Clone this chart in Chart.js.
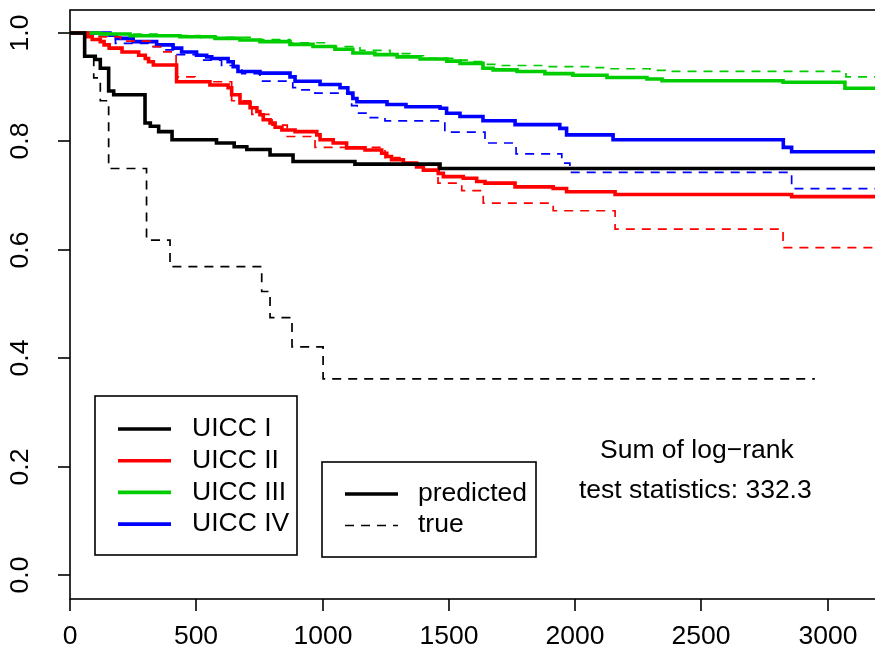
<!DOCTYPE html>
<html>
<head>
<meta charset="utf-8">
<script src="https://cdn.jsdelivr.net/npm/chart.js@4.4.1/dist/chart.umd.min.js"></script>
<style>
  html, body { margin: 0; padding: 0; background: #ffffff; }
  #wrap { width: 875px; height: 661px; }
</style>
</head>
<body>
<div id="wrap"><canvas id="km" width="875" height="661"></canvas></div>
<script>
// Axis ticks
const xTicks = [0, 500, 1000, 1500, 2000, 2500, 3000];
const yTicks = [0.0, 0.2, 0.4, 0.6, 0.8, 1.0];

// UICC I (black)
const uicc1PredTime = [0, 58, 100, 120, 153, 173, 297, 318, 351, 404, 580, 650, 700, 792, 883, 1128, 1465, 3187];
const uicc1PredSurv = [1, 0.957, 0.951, 0.935, 0.893, 0.886, 0.834, 0.828, 0.818, 0.803, 0.797, 0.790, 0.785, 0.775, 0.763, 0.758, 0.750, 0.750];
const uicc1TrueTime = [0, 58, 94, 120, 153, 303, 396, 759, 792, 879, 1002, 2949];
const uicc1TrueSurv = [1, 0.958, 0.917, 0.875, 0.750, 0.618, 0.569, 0.523, 0.475, 0.421, 0.362, 0.362];

// UICC II (red)
const uicc2PredTime = [0, 70, 88, 120, 135, 155, 206, 272, 298, 311, 330, 422, 554, 626, 640, 673, 713, 740, 752, 765, 792, 812, 839, 891, 977, 990, 1042, 1095, 1168, 1234, 1254, 1273, 1320, 1372, 1399, 1458, 1478, 1557, 1610, 1643, 1762, 1913, 1966, 2158, 2857, 3187];
const uicc2PredSurv = [1, 0.993, 0.988, 0.984, 0.978, 0.972, 0.965, 0.959, 0.953, 0.947, 0.941, 0.910, 0.904, 0.899, 0.886, 0.871, 0.862, 0.855, 0.849, 0.840, 0.834, 0.826, 0.821, 0.818, 0.812, 0.803, 0.797, 0.788, 0.784, 0.778, 0.772, 0.766, 0.760, 0.753, 0.747, 0.741, 0.735, 0.732, 0.726, 0.723, 0.716, 0.713, 0.707, 0.702, 0.698, 0.698];
const uicc2TrueTime = [0, 60, 200, 317, 364, 420, 495, 640, 720, 800, 860, 970, 1247, 1306, 1457, 1551, 1636, 1913, 2158, 2823, 3187];
const uicc2TrueSurv = [1, 0.993, 0.985, 0.975, 0.965, 0.919, 0.910, 0.875, 0.850, 0.830, 0.809, 0.789, 0.770, 0.756, 0.723, 0.709, 0.686, 0.672, 0.638, 0.604, 0.604];

// UICC III (green)
const uicc3PredTime = [0, 119, 238, 435, 574, 673, 752, 871, 962, 1049, 1120, 1207, 1295, 1386, 1492, 1544, 1635, 1675, 1770, 1880, 1991, 2126, 2284, 2344, 2823, 3068, 3187];
const uicc3PredSurv = [1, 0.998, 0.995, 0.993, 0.990, 0.987, 0.984, 0.979, 0.975, 0.970, 0.963, 0.960, 0.956, 0.952, 0.948, 0.944, 0.935, 0.932, 0.929, 0.925, 0.922, 0.918, 0.915, 0.912, 0.909, 0.898, 0.898];
const uicc3TrueTime = [0, 158, 356, 515, 713, 871, 1029, 1148, 1267, 1346, 1425, 1524, 1584, 1643, 1702, 1880, 2059, 2126, 2296, 2356, 3072, 3187];
const uicc3TrueSurv = [1, 0.998, 0.995, 0.992, 0.988, 0.982, 0.975, 0.968, 0.962, 0.958, 0.953, 0.950, 0.947, 0.942, 0.940, 0.938, 0.936, 0.934, 0.931, 0.929, 0.919, 0.919];

// UICC IV (blue)
const uicc4PredTime = [0, 158, 184, 250, 343, 408, 442, 501, 541, 561, 626, 646, 665, 752, 871, 891, 990, 1069, 1100, 1120, 1136, 1255, 1330, 1465, 1491, 1544, 1635, 1762, 1939, 1966, 2150, 2824, 2857, 3187];
const uicc4PredSurv = [1, 0.996, 0.990, 0.984, 0.978, 0.972, 0.965, 0.959, 0.956, 0.953, 0.947, 0.938, 0.929, 0.926, 0.919, 0.911, 0.905, 0.899, 0.889, 0.879, 0.873, 0.868, 0.864, 0.861, 0.852, 0.846, 0.838, 0.831, 0.824, 0.812, 0.803, 0.789, 0.781, 0.781];
const uicc4TrueTime = [0, 100, 180, 317, 364, 420, 520, 600, 680, 752, 882, 910, 970, 1115, 1137, 1180, 1247, 1484, 1643, 1766, 1947, 1979, 2857, 3187];
const uicc4TrueSurv = [1, 0.994, 0.981, 0.975, 0.969, 0.960, 0.950, 0.940, 0.925, 0.911, 0.899, 0.895, 0.889, 0.866, 0.852, 0.844, 0.838, 0.817, 0.797, 0.777, 0.760, 0.743, 0.713, 0.713];

const groupNames = ['UICC I', 'UICC II', 'UICC III', 'UICC IV'];
const groupColors = ['#000000', '#ff0000', '#00cd00', '#0000ff'];

const FONT = '26.5px "Liberation Sans", Arial, sans-serif';
const DASH = [9, 7];
const SOLID_W = 3.6;
const DASH_W = 1.7;

function toPoints(times, surv) {
    return times.map((t, i) => ({ x: t, y: surv[i] }));
}

function makeSet(label, times, surv, color, dashed) {
    return {
        label: label,
        data: toPoints(times, surv),
        borderColor: color,
        borderWidth: dashed ? DASH_W : SOLID_W,
        borderDash: dashed ? DASH : [],
        stepped: 'before',
        pointRadius: 0,
        fill: false
    };
}

// R style frame, axes, legends and annotation
const rFrame = {
    id: 'rFrame',
    beforeDraw(chart) {
        const c = chart.ctx;
        c.save();
        c.fillStyle = '#ffffff';
        c.fillRect(0, 0, chart.width, chart.height);
        c.restore();
    },
    afterDraw(chart) {
        const c = chart.ctx;
        const a = chart.chartArea;
        const xs = chart.scales.x, ys = chart.scales.y;
        c.save();
        c.strokeStyle = '#000';
        c.fillStyle = '#000';
        c.lineWidth = 1.6;
        c.setLineDash([]);
        // box
        c.strokeRect(a.left, a.top, a.right - a.left + 5, a.bottom - a.top);

        // x axis
        c.font = FONT;
        c.textAlign = 'center';
        c.textBaseline = 'middle';
        xTicks.forEach(v => {
            const px = Math.round(xs.getPixelForValue(v));
            c.beginPath();
            c.moveTo(px, a.bottom);
            c.lineTo(px, a.bottom + 12);
            c.stroke();
            c.fillText(String(v), px, 637);
        });
        // y axis
        yTicks.forEach(v => {
            const py = Math.round(ys.getPixelForValue(v));
            c.beginPath();
            c.moveTo(a.left, py);
            c.lineTo(a.left - 12, py);
            c.stroke();
            c.save();
            c.translate(21, py);
            c.rotate(-Math.PI / 2);
            c.fillText(v.toFixed(1), 0, 0);
            c.restore();
        });

        // group legend
        c.strokeRect(95, 396, 202, 159);
        c.textAlign = 'left';
        groupNames.forEach((name, i) => {
            const y = 429 + i * 31.7;
            c.strokeStyle = groupColors[i];
            c.lineWidth = SOLID_W;
            c.beginPath();
            c.moveTo(118, y);
            c.lineTo(171, y);
            c.stroke();
            c.fillStyle = '#000';
            c.fillText(name, 192, y);
        });

        // line type legend
        c.strokeStyle = '#000';
        c.lineWidth = 1.6;
        c.strokeRect(322, 462, 214, 95);
        c.lineWidth = SOLID_W;
        c.beginPath();
        c.moveTo(345, 494);
        c.lineTo(398, 494);
        c.stroke();
        c.lineWidth = DASH_W;
        c.setLineDash(DASH);
        c.beginPath();
        c.moveTo(345, 525.5);
        c.lineTo(398, 525.5);
        c.stroke();
        c.setLineDash([]);
        c.fillText('predicted', 418, 494);
        c.fillText('true', 418, 525);

        // annotation
        c.fillText('Sum of log\u2212rank', 600, 451);
        c.fillText('test statistics: 332.3', 579, 491);
        c.restore();
    }
};

const datasets = [];
const predT = [uicc1PredTime, uicc2PredTime, uicc3PredTime, uicc4PredTime];
const predS = [uicc1PredSurv, uicc2PredSurv, uicc3PredSurv, uicc4PredSurv];
const trueT = [uicc1TrueTime, uicc2TrueTime, uicc3TrueTime, uicc4TrueTime];
const trueS = [uicc1TrueSurv, uicc2TrueSurv, uicc3TrueSurv, uicc4TrueSurv];
for (let i = 0; i < 4; i++) {
    datasets.push(makeSet(groupNames[i] + ' predicted', predT[i], predS[i], groupColors[i], false));
    datasets.push(makeSet(groupNames[i] + ' true', trueT[i], trueS[i], groupColors[i], true));
}

new Chart(document.getElementById('km'), {
    type: 'line',
    data: { datasets: datasets },
    options: {
        responsive: false,
        animation: false,
        devicePixelRatio: 1,
        layout: { padding: { left: 70, top: 10, right: 0, bottom: 62 } },
        plugins: { legend: { display: false }, tooltip: { enabled: false } },
        scales: {
            x: { type: 'linear', min: 0, max: 3187, display: false },
            y: { type: 'linear', min: -0.0443, max: 1.0424, display: false }
        }
    },
    plugins: [rFrame]
});
</script>
</body>
</html>
